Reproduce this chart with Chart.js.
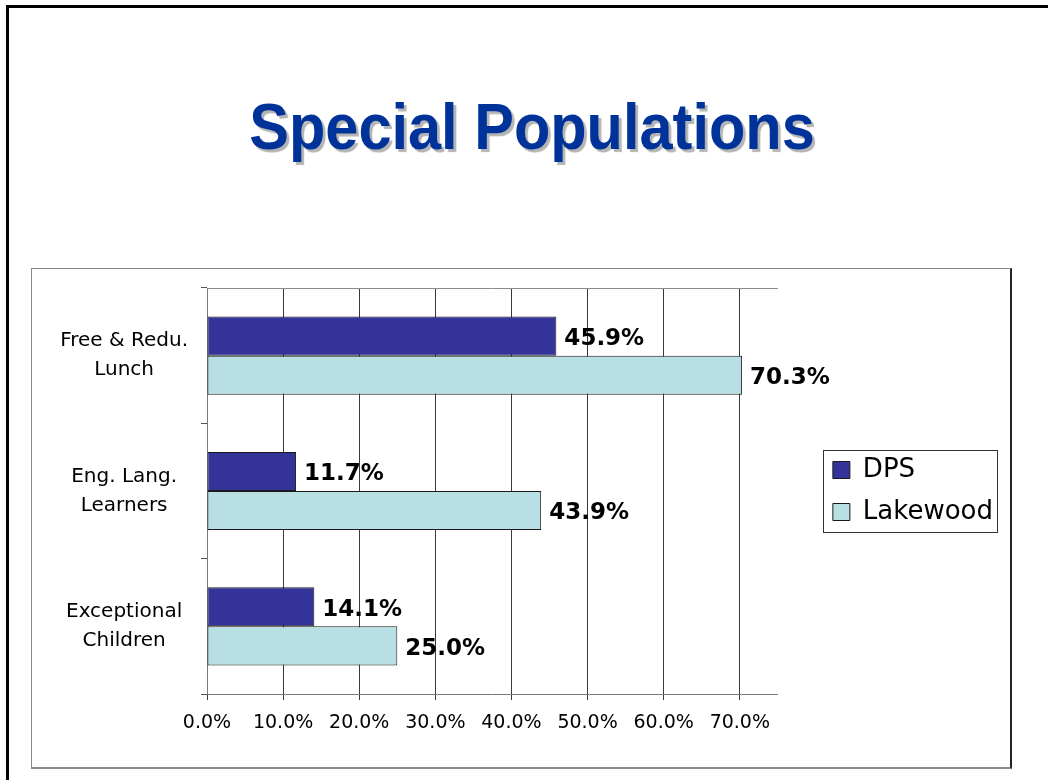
<!DOCTYPE html>
<html>
<head>
<meta charset="utf-8">
<script src="https://cdn.jsdelivr.net/npm/chart.js@4/dist/chart.umd.min.js"></script>
<style>
  html, body { margin: 0; padding: 0; background: #fff; width: 1048px; height: 780px; overflow: hidden; }
  #frame { position: absolute; left: 6px; top: 5px; width: 1100px; height: 772px;
           border-top: 3px solid #000; border-left: 3px solid #000; border-bottom: 3px solid #000; }
  #title { position: absolute; left: 0; width: 1064px; top: 95px; text-align: center;
           font-family: "Liberation Sans", Arial, sans-serif; font-weight: bold; font-size: 64px;
           line-height: 64px; color: #003399; text-shadow: 3px 3px 1px #b4b4b4;
           transform: scaleX(0.93); transform-origin: 532px 50%; }
  #box { position: absolute; left: 31px; top: 268px; width: 978px; height: 498px;
         border-top: 1px solid #8a8a8a; border-left: 1px solid #8a8a8a;
         border-right: 2px solid #222; border-bottom: 2px solid #8a8a8a; }
  #box canvas { display: block; }
</style>
</head>
<body>
<div id="frame"></div>
<div id="title">Special Populations</div>
<div id="box"><canvas id="c" width="978" height="498"></canvas></div>
<script>
const categories = [['Free & Redu.', 'Lunch'], ['Eng. Lang.', 'Learners'], ['Exceptional', 'Children']];
const seriesNames = ['DPS', 'Lakewood'];
const dpsValues = [45.9, 11.7, 14.1];
const lakewoodValues = [70.3, 43.9, 25.0];
const tickValues = [0, 10, 20, 30, 40, 50, 60, 70];

const valueLabels = {
  id: 'valueLabels',
  afterDatasetsDraw(chart) {
    const ctx = chart.ctx;
    ctx.save();
    ctx.font = 'bold 23px "DejaVu Sans"';
    ctx.fillStyle = '#000';
    ctx.textBaseline = 'middle';
    ctx.textAlign = 'left';
    chart.data.datasets.forEach((ds, i) => {
      chart.getDatasetMeta(i).data.forEach((bar, j) => {
        ctx.fillText(ds.data[j].toFixed(1) + '%', bar.x + 8, bar.y + 3);
      });
    });
    ctx.restore();
  }
};

const plotFrame = {
  id: 'plotFrame',
  afterLayout(chart) {
    const lg = chart.legend;
    const gap = 55;
    const dx = chart.chartArea.right + gap - (lg.left + lg.options.labels.padding);
    lg.left += dx; lg.right += dx;
  },
  beforeDatasetsDraw(chart) {
    const {ctx, chartArea: a} = chart;
    ctx.save();
    ctx.strokeStyle = '#8a8a8a';
    ctx.lineWidth = 1;
    ctx.beginPath();
    ctx.moveTo(a.left, a.top + 0.5);
    ctx.lineTo(a.right, a.top + 0.5);
    ctx.stroke();
    ctx.restore();
  },
  afterDraw(chart) {
    const lg = chart.legend;
    const hb = lg.legendHitBoxes;
    if (!hb || !hb.length) return;
    let l = Infinity, r = -Infinity, t = Infinity, b = -Infinity;
    hb.forEach(h => { l = Math.min(l, h.left); r = Math.max(r, h.left + h.width); t = Math.min(t, h.top); b = Math.max(b, h.top + h.height); });
    const ctx = chart.ctx;
    ctx.save();
    ctx.strokeStyle = '#333';
    ctx.lineWidth = 1;
    ctx.strokeRect(Math.round(l - 10) + 0.5, Math.round(t - 7) + 0.5, Math.round(r - l + 14), Math.round(b - t + 14));
    ctx.restore();
  }
};

Chart.defaults.color = '#000';
Chart.defaults.font.family = '"DejaVu Sans", sans-serif';

new Chart(document.getElementById('c'), {
  type: 'bar',
  data: {
    labels: categories,
    datasets: [
      { label: seriesNames[0], data: dpsValues, backgroundColor: '#333399', borderColor: '#1a1a1a', borderWidth: 1, borderSkipped: false },
      { label: seriesNames[1], data: lakewoodValues, backgroundColor: '#b8dfe3', borderColor: '#1a1a1a', borderWidth: 1, borderSkipped: false }
    ]
  },
  options: {
    indexAxis: 'y',
    responsive: false,
    animation: false,
    layout: { padding: { top: 19, right: 46, bottom: 0, left: 0 } },
    datasets: { bar: { categoryPercentage: 0.577, barPercentage: 1.0 } },
    plugins: {
      legend: {
        position: 'right',
        fullSize: false,
        align: 'center',
        labels: { boxWidth: 17, boxHeight: 17, padding: 16, font: { size: 26 }, color: '#000' }
      },
      tooltip: { enabled: false },
      title: { display: false }
    },
    scales: {
      x: {
        type: 'linear',
        min: 0, max: 75,
        afterBuildTicks(scale) {
          scale.ticks = tickValues.map(v => ({ value: v })).concat([{ value: 75 }]);
        },
        ticks: {
          font: { size: 19 }, color: '#000', padding: 12, maxRotation: 0, autoSkip: false,
          callback: (v) => tickValues.includes(v) ? v.toFixed(1) + '%' : null
        },
        grid: { color: '#3a3a3a', lineWidth: 1, tickLength: 6, drawTicks: true },
        border: { color: '#7a7a7a', width: 1 },
        afterFit(scale) { scale.height = 73; scale.paddingLeft = 0; scale.paddingRight = 0; }
      },
      y: {
        type: 'category',
        ticks: { font: { size: 20, lineHeight: 1.45 }, color: '#000', padding: 13, crossAlign: 'center', autoSkip: false },
        grid: { drawOnChartArea: false, drawTicks: true, tickLength: 6, color: '#555', offset: true },
        border: { color: '#7a7a7a', width: 1 },
        afterFit(scale) { scale.width = 175; scale.paddingTop = 0; scale.paddingBottom = 0; }
      }
    }
  },
  plugins: [valueLabels, plotFrame]
});
</script>
</body>
</html>
